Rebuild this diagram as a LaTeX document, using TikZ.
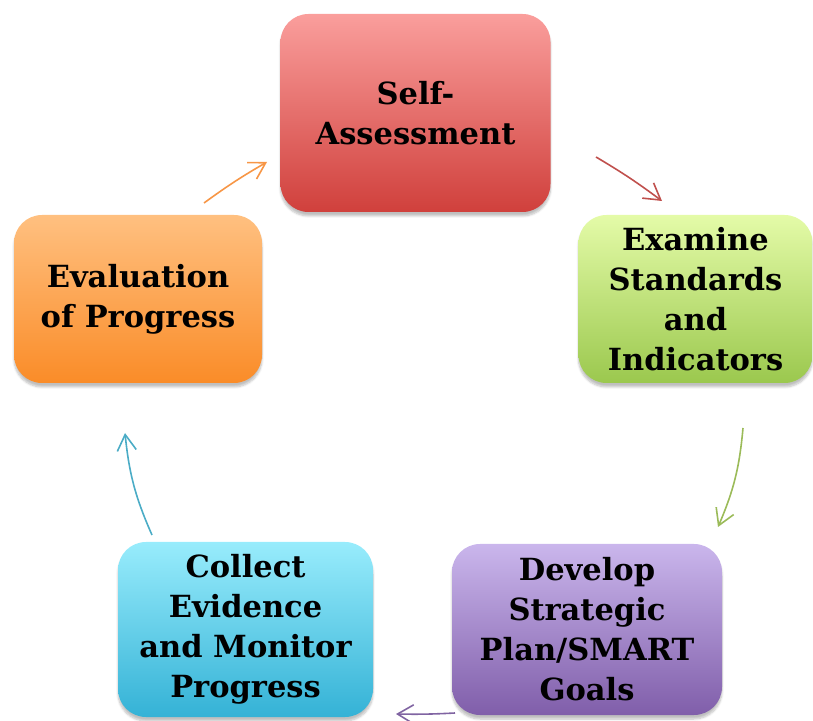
\documentclass[tikz,border=0pt]{standalone}
\usepackage{fontspec}
\setmainfont{DejaVu Serif}
\usetikzlibrary{arrows.meta,shadows.blur}

\definecolor{saTop}{RGB}{250,158,156}
\definecolor{saBot}{RGB}{208,64,60}
\definecolor{esTop}{RGB}{228,251,168}
\definecolor{esBot}{RGB}{155,200,78}
\definecolor{dpTop}{RGB}{202,182,236}
\definecolor{dpBot}{RGB}{128,94,170}
\definecolor{ceTop}{RGB}{152,236,252}
\definecolor{ceBot}{RGB}{52,178,214}
\definecolor{epTop}{RGB}{255,192,128}
\definecolor{epBot}{RGB}{250,140,40}
\definecolor{saLine}{RGB}{192,80,77}
\definecolor{esLine}{RGB}{155,187,89}
\definecolor{dpLine}{RGB}{128,100,162}
\definecolor{ceLine}{RGB}{75,172,198}
\definecolor{epLine}{RGB}{247,150,70}

\begin{document}
\begin{tikzpicture}[x=1pt,y=1pt]
        \tikzstyle{stage}=[rounded corners=28pt,align=center,inner sep=0pt,
          font=\fontsize{30.5}{40}\selectfont\bfseries,
          blur shadow={shadow xshift=0pt,shadow yshift=-4pt,shadow blur steps=6,shadow opacity=25}]
        \tikzstyle{link}=[line width=1.6pt,-{Straight Barb[length=16pt,width=19pt,line width=1.6pt]}]
        \useasboundingbox (0,0) rectangle (813,720);
        % the five stages
        \node [stage,top color=saTop,bottom color=saBot,minimum width=270pt,minimum height=198pt] (sa) at (415.5,607) {Self-\\Assessment};
        \node [stage,top color=esTop,bottom color=esBot,minimum width=234pt,minimum height=168pt] (es) at (695.5,421) {Examine\\Standards\\and\\Indicators};
        \node [stage,top color=dpTop,bottom color=dpBot,minimum width=270pt,minimum height=171pt] (dp) at (587,90.5) {Develop\\Strategic\\Plan/SMART\\Goals};
        \node [stage,top color=ceTop,bottom color=ceBot,minimum width=255pt,minimum height=175pt] (ce) at (245.5,90.5) {Collect\\Evidence\\and Monitor\\Progress};
        \node [stage,top color=epTop,bottom color=epBot,minimum width=248pt,minimum height=168pt] (ep) at (138,421) {Evaluation\\of Progress};
        % ends of the arrows
        \coordinate (sa-out) at (596,563);
        \coordinate (es-in) at (662,519);
        \coordinate (es-out) at (743,292);
        \coordinate (dp-in) at (718,193);
        \coordinate (dp-out) at (455,7);
        \coordinate (ce-in) at (396,6);
        \coordinate (ce-out) at (152,185);
        \coordinate (ep-in) at (125,287);
        \coordinate (ep-out) at (204,517);
        \coordinate (sa-in) at (267,558);
        \draw [link,saLine] (sa-out) to [bend left=3] (es-in);
        \draw [link,esLine] (es-out) to [bend left=9] (dp-in);
        \draw [link,dpLine] (dp-out) to [bend left=2] (ce-in);
        \draw [link,ceLine] (ce-out) to [bend left=9] (ep-in);
        \draw [link,epLine] (ep-out) to [bend left=3] (sa-in);
\end{tikzpicture}
\end{document}
